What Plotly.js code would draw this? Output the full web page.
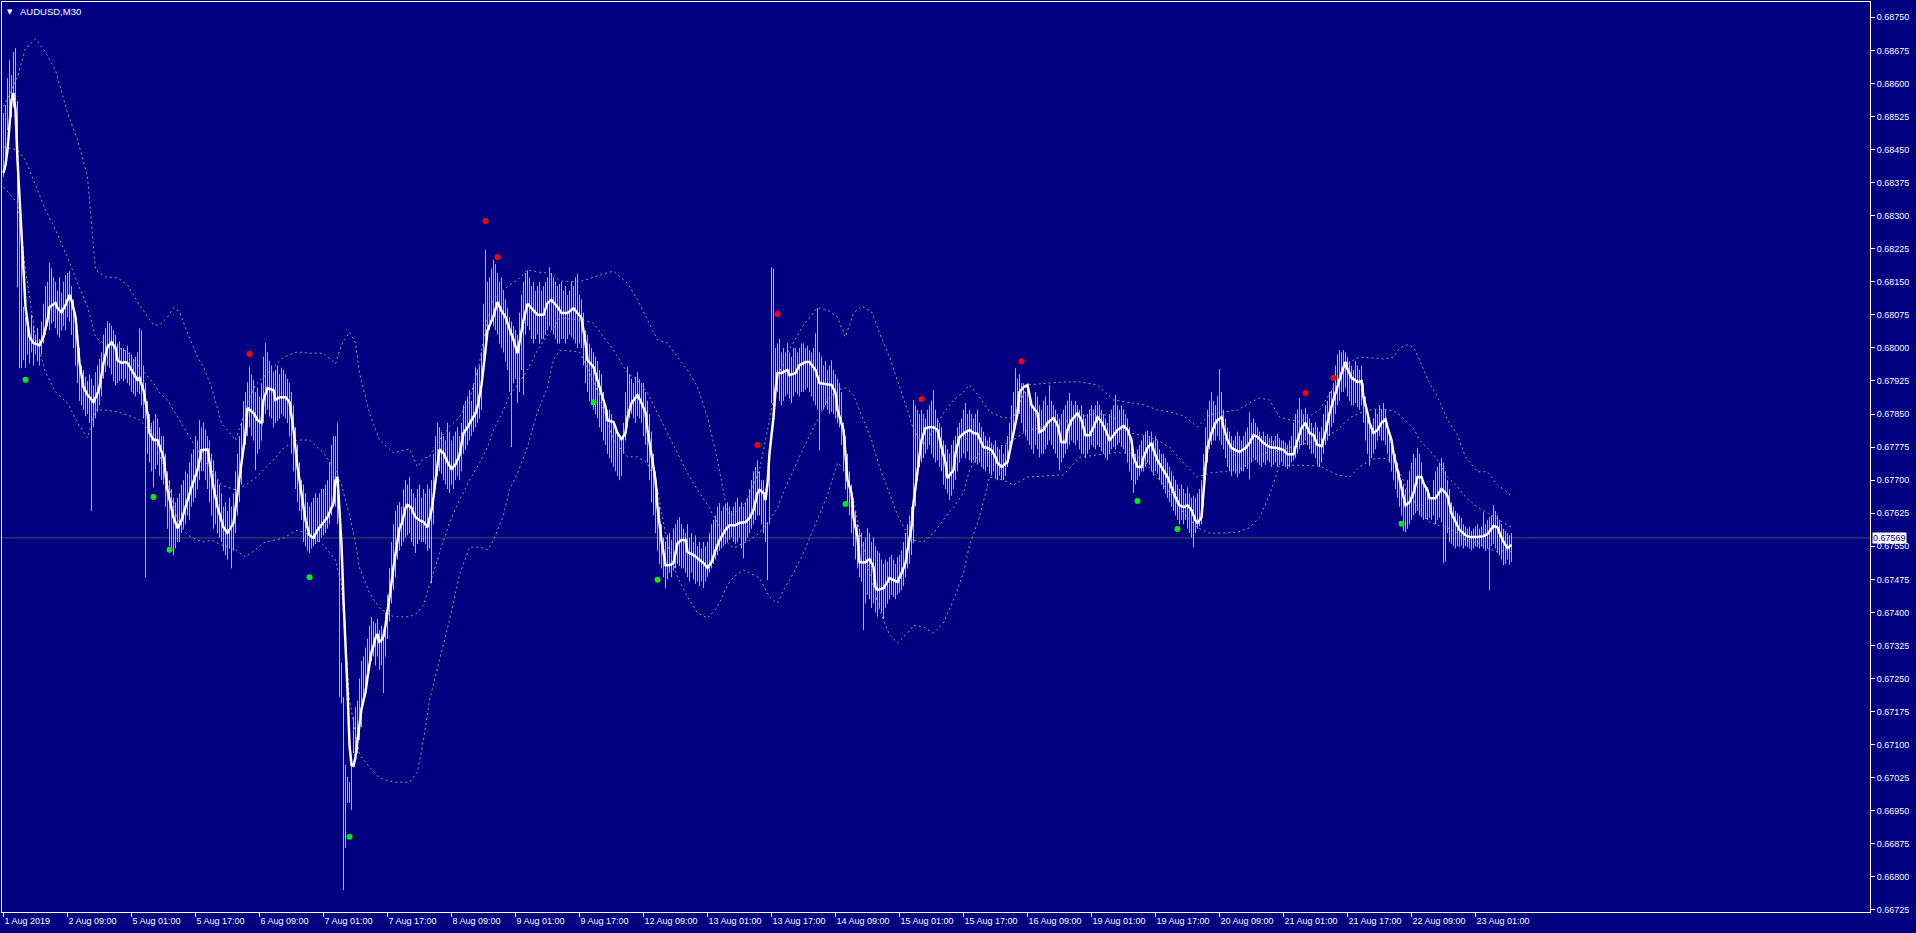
<!DOCTYPE html>
<html><head><meta charset="utf-8">
<script src="https://cdn.plot.ly/plotly-3.0.1.min.js"></script>
<style>html,body{margin:0;padding:0;background:#000080;overflow:hidden}#chart{width:1916px;height:933px}</style>
</head><body><div id="chart"></div>
<script>
// values are stored as points (1e-5) above BASE
const BASE = 0.66, SCALE = 1e5;
const symbolTitle = "AUDUSD,M30";
const lastPrice = 0.67569;
const barsPerLabel = 32;
const timeLabels = ["1 Aug 2019","2 Aug 09:00","5 Aug 01:00","5 Aug 17:00","6 Aug 09:00","7 Aug 01:00","7 Aug 17:00","8 Aug 09:00","9 Aug 01:00","9 Aug 17:00","12 Aug 09:00","13 Aug 01:00","13 Aug 17:00","14 Aug 09:00","15 Aug 01:00","15 Aug 17:00","16 Aug 09:00","19 Aug 01:00","19 Aug 17:00","20 Aug 09:00","21 Aug 01:00","21 Aug 17:00","22 Aug 09:00","23 Aug 01:00"];
const priceTicks = [0.66725,0.66800,0.66875,0.66950,0.67025,0.67100,0.67175,0.67250,0.67325,0.67400,0.67475,0.67550,0.67625,0.67700,0.67775,0.67850,0.67925,0.68000,0.68075,0.68150,0.68225,0.68300,0.68375,0.68450,0.68525,0.68600,0.68675,0.68750];

const highs = [
2533,2551,2612,2653,2619,2671,2680,2560,2297,2229,
2093,2070,2060,2040,2075,2050,2030,2045,2020,2060,
2100,2140,2150,2193,2180,2160,2150,2130,2160,2125,
2150,2165,2170,2175,2140,2110,2080,2040,2000,1960,
1950,1935,1925,1940,1930,1915,1945,1960,1975,1990,
2030,2045,2060,2056,2050,2040,2030,2010,2015,2000,
2000,1995,2005,1990,1985,1975,1980,1990,2045,2040,
1960,1920,1880,1850,1830,1835,1850,1840,1820,1800,
1800,1760,1720,1700,1680,1660,1650,1660,1670,1690,
1700,1720,1715,1740,1760,1770,1800,1790,1836,1820,
1830,1815,1800,1790,1760,1745,1720,1700,1690,1670,
1640,1650,1630,1660,1640,1670,1720,1760,1800,1830,
1880,1900,1922,1956,1940,1927,1900,1910,1890,1920,
1980,2011,1990,1970,1960,1945,1950,1960,1940,1955,
1950,1940,1930,1920,1900,1870,1820,1780,1740,1700,
1690,1670,1650,1640,1650,1660,1670,1660,1670,1680,
1680,1690,1700,1740,1780,1800,1800,1829,1640,1285,
1208,1054,1027,1015,1072,1163,1185,1200,1250,1290,
1300,1320,1340,1370,1389,1380,1375,1385,1360,1370,
1360,1400,1440,1500,1560,1600,1630,1643,1650,1640,
1680,1700,1690,1707,1680,1670,1660,1680,1690,1660,
1680,1670,1690,1680,1700,1760,1800,1830,1820,1810,
1800,1790,1830,1810,1790,1800,1810,1820,1800,1830,
1870,1880,1890,1904,1880,1920,1956,1950,1960,1990,
2100,2222,2150,2160,2180,2200,2190,2170,2150,2160,
2130,2110,2090,2070,2060,2050,2040,2030,2080,2120,
2150,2170,2176,2160,2140,2150,2130,2140,2150,2130,
2140,2150,2160,2183,2170,2160,2150,2140,2145,2150,
2130,2140,2120,2130,2150,2140,2160,2168,2120,2110,
2080,2040,2030,2010,2000,1990,1980,1970,1950,1940,
1900,1870,1860,1859,1850,1830,1820,1810,1800,1790,
1830,1900,1957,1940,1930,1920,1935,1945,1930,1920,
1920,1900,1880,1850,1810,1760,1720,1680,1640,1600,
1570,1560,1575,1580,1565,1590,1600,1610,1616,1600,
1590,1580,1600,1570,1580,1560,1575,1550,1560,1545,
1560,1550,1560,1580,1600,1610,1620,1640,1648,1630,
1640,1645,1650,1640,1630,1640,1650,1660,1640,1650,
1640,1650,1660,1680,1700,1720,1730,1745,1720,1700,
1700,1680,1605,1760,2183,2180,2000,2010,2020,1990,
2000,1990,2011,1990,1980,2000,2000,1990,2000,2010,
2010,2000,2005,1995,1990,2000,2033,2090,1990,1980,
1960,1970,1950,1960,1972,1950,1940,1930,1920,1900,
1830,1800,1760,1720,1690,1660,1630,1600,1590,1580,
1560,1570,1591,1580,1560,1570,1550,1540,1535,1520,
1510,1520,1515,1525,1530,1520,1510,1525,1530,1540,
1560,1580,1600,1620,1640,1882,1870,1860,1850,1860,
1850,1840,1860,1870,1880,1904,1860,1840,1830,1820,
1790,1780,1770,1760,1780,1790,1800,1820,1830,1840,
1860,1875,1850,1860,1850,1840,1850,1860,1830,1820,
1810,1800,1790,1798,1785,1780,1790,1775,1770,1780,
1760,1780,1800,1830,1870,1900,1954,1930,1940,1920,
1920,1900,1910,1890,1880,1870,1900,1890,1870,1860,
1880,1890,1870,1916,1880,1870,1860,1850,1840,1850,
1860,1870,1880,1898,1880,1870,1880,1870,1860,1870,
1850,1840,1850,1860,1870,1860,1870,1880,1870,1860,
1850,1840,1830,1850,1860,1870,1893,1870,1860,1870,
1860,1850,1840,1820,1790,1770,1760,1770,1780,1790,
1800,1810,1813,1800,1810,1790,1800,1790,1770,1760,
1760,1750,1740,1730,1720,1710,1700,1690,1680,1690,
1680,1670,1684,1670,1660,1665,1660,1670,1680,1700,
1760,1820,1860,1880,1900,1880,1870,1890,1952,1900,
1860,1840,1820,1810,1800,1790,1800,1810,1800,1790,
1800,1810,1820,1854,1830,1840,1830,1820,1810,1800,
1810,1800,1805,1795,1800,1790,1800,1805,1795,1790,
1790,1785,1780,1790,1800,1830,1850,1860,1886,1860,
1850,1864,1850,1840,1830,1820,1830,1820,1810,1820,
1850,1870,1880,1900,1904,1920,1960,1985,1995,1990,
1995,1990,1980,1970,1960,1950,1970,1960,1950,1960,
1920,1890,1860,1830,1820,1840,1860,1850,1870,1860,
1875,1860,1830,1810,1790,1770,1760,1740,1720,1700,
1690,1680,1700,1720,1740,1760,1750,1773,1760,1740,
1690,1680,1684,1670,1660,1700,1720,1730,1740,1750,
1740,1720,1700,1680,1650,1640,1630,1625,1620,1615,
1600,1595,1590,1593,1585,1590,1595,1600,1590,1595,
1628,1600,1610,1616,1620,1643,1630,1620,1610,1600,
1590,1585,1580,1575,1580];

const lows = [
2388,2426,2494,2487,2524,2546,2562,2138,1954,1954,
1972,1955,1985,1965,1990,1960,1985,1970,1960,1985,
2010,2030,2050,2040,2055,2060,2045,2030,2025,2040,
2050,2040,2070,2060,2030,2000,1960,1920,1880,1870,
1860,1845,1850,1830,1630,1820,1840,1855,1870,1890,
1930,1945,1960,1955,1940,1925,1915,1920,1925,1930,
1925,1930,1920,1915,1900,1895,1890,1900,1895,1870,
1840,1480,1760,1740,1720,1684,1725,1735,1710,1700,
1690,1640,1590,1550,1540,1530,1545,1560,1560,1580,
1590,1600,1620,1610,1640,1650,1660,1680,1700,1720,
1720,1700,1680,1650,1620,1590,1600,1580,1570,1560,
1540,1530,1520,1545,1500,1540,1580,1620,1650,1690,
1760,1780,1800,1820,1800,1790,1723,1760,1770,1790,
1830,1850,1860,1845,1840,1820,1830,1835,1840,1850,
1845,1840,1830,1800,1760,1720,1680,1650,1630,1610,
1560,1550,1540,1535,1545,1550,1555,1560,1560,1570,
1575,1580,1590,1600,1620,1640,1640,1600,1208,1194,
770,866,968,968,952,1081,1081,1080,1110,1140,
1200,1230,1250,1270,1290,1300,1280,1300,1270,1280,
1217,1300,1340,1380,1420,1450,1480,1520,1540,1550,
1560,1570,1575,1580,1560,1550,1535,1555,1565,1560,
1560,1555,1540,1545,1466,1600,1680,1710,1720,1715,
1700,1690,1680,1671,1690,1680,1700,1710,1700,1720,
1760,1770,1780,1790,1800,1810,1820,1830,1840,1860,
1940,2000,2020,2040,2060,2050,2040,2030,2010,2000,
1990,1970,1950,1900,1775,1920,1930,1875,1900,1950,
1893,2030,2050,2040,2020,2010,2020,2030,2010,2020,
2020,2030,2040,2050,2040,2030,2020,2010,2010,2020,
2020,2010,2020,2030,2025,2020,2010,2000,2010,2000,
1960,1920,1900,1880,1870,1860,1850,1840,1820,1810,
1790,1780,1760,1750,1740,1730,1720,1710,1700,1710,
1760,1790,1820,1840,1850,1840,1830,1845,1840,1830,
1800,1780,1740,1700,1650,1620,1580,1540,1510,1500,
1480,1455,1475,1490,1480,1495,1500,1510,1505,1500,
1500,1490,1480,1470,1490,1475,1465,1470,1460,1470,
1455,1470,1480,1490,1500,1510,1520,1530,1540,1545,
1550,1555,1560,1565,1570,1560,1555,1560,1570,1545,
1523,1560,1570,1580,1590,1600,1610,1620,1620,1600,
1580,1560,1473,1600,1875,1880,1890,1900,1880,1870,
1880,1890,1895,1885,1875,1890,1900,1895,1890,1900,
1900,1905,1910,1900,1890,1880,1870,1860,1768,1860,
1860,1870,1860,1850,1855,1850,1840,1829,1820,1780,
1720,1680,1650,1620,1580,1550,1520,1500,1480,1470,
1360,1420,1440,1430,1410,1420,1400,1390,1410,1400,
1385,1410,1420,1430,1440,1435,1430,1440,1445,1450,
1460,1480,1500,1510,1530,1557,1640,1700,1730,1740,
1750,1760,1770,1780,1760,1750,1740,1745,1730,1720,
1690,1680,1670,1655,1665,1680,1700,1720,1740,1750,
1760,1750,1765,1745,1740,1745,1740,1735,1740,1730,
1725,1720,1730,1715,1710,1720,1705,1700,1710,1700,
1700,1710,1730,1750,1780,1800,1830,1840,1850,1830,
1810,1800,1790,1780,1770,1760,1780,1770,1752,1760,
1760,1770,1780,1790,1780,1770,1760,1750,1723,1740,
1750,1760,1770,1780,1790,1785,1780,1790,1770,1760,
1760,1750,1760,1770,1780,1775,1770,1780,1775,1765,
1760,1750,1745,1760,1770,1775,1770,1780,1785,1775,
1770,1760,1740,1720,1700,1671,1690,1700,1710,1720,
1720,1730,1740,1735,1720,1710,1720,1715,1700,1690,
1680,1670,1660,1650,1640,1630,1620,1610,1600,1610,
1600,1610,1590,1580,1570,1548,1580,1590,1595,1600,
1640,1700,1740,1770,1780,1790,1790,1800,1790,1780,
1770,1750,1730,1720,1710,1720,1715,1707,1715,1720,
1720,1730,1725,1702,1740,1750,1745,1740,1735,1730,
1740,1735,1745,1740,1730,1735,1740,1730,1735,1740,
1735,1730,1725,1730,1740,1745,1750,1760,1770,1780,
1780,1790,1780,1770,1760,1760,1750,1735,1730,1740,
1760,1780,1790,1800,1820,1830,1850,1870,1880,1900,
1900,1910,1890,1880,1870,1870,1875,1866,1860,1870,
1830,1790,1760,1734,1750,1760,1770,1790,1800,1790,
1790,1780,1760,1740,1720,1700,1680,1660,1640,1620,
1585,1582,1590,1600,1610,1620,1625,1630,1620,1616,
1610,1612,1609,1615,1610,1620,1600,1610,1615,1605,
1512,1515,1580,1560,1555,1550,1545,1550,1548,1552,
1545,1550,1548,1545,1541,1545,1550,1548,1545,1550,
1545,1540,1545,1451,1550,1555,1545,1535,1530,1520,
1507,1510,1520,1508,1515];

// white smoothed average: [bar index, value]
const maPoints = [[0,2397],[1,2415],[2,2449],[3,2499],[4,2562],[5,2578],[6,2540],[7,2426],[8,2336],[9,2251],[10,2161],[11,2093],[13,2025],[15,2011],[18,2006],[20,2025],[22,2063],[23,2093],[26,2102],[27,2090],[29,2081],[31,2097],[33,2120],[34,2108],[36,2070],[37,2025],[38,1966],[40,1911],[42,1893],[43,1888],[45,1877],[47,1897],[48,1911],[50,1966],[52,2002],[54,2013],[56,2000],[57,1972],[59,1966],[61,1968],[62,1966],[64,1950],[67,1927],[68,1932],[70,1904],[72,1852],[73,1807],[75,1791],[77,1791],[80,1752],[82,1677],[85,1616],[87,1591],[89,1609],[92,1655],[94,1684],[97,1723],[99,1768],[102,1770],[103,1739],[105,1684],[107,1639],[110,1593],[112,1580],[115,1603],[117,1671],[119,1745],[121,1807],[122,1864],[125,1852],[127,1836],[129,1830],[130,1882],[132,1909],[135,1904],[136,1882],[138,1888],[141,1888],[143,1877],[145,1814],[147,1730],[149,1671],[151,1609],[153,1575],[155,1569],[157,1587],[160,1603],[162,1616],[165,1648],[166,1700],[167,1707],[168,1640],[169,1553],[170,1428],[171,1337],[172,1224],[173,1099],[174,1054],[175,1052],[176,1072],[177,1110],[178,1151],[179,1181],[180,1201],[181,1219],[182,1253],[183,1287],[184,1310],[185,1324],[186,1342],[187,1351],[188,1333],[189,1337],[190,1346],[191,1371],[192,1401],[193,1433],[194,1467],[195,1503],[196,1535],[197,1571],[198,1591],[199,1600],[200,1621],[201,1637],[202,1644],[203,1641],[204,1637],[205,1625],[206,1616],[208,1609],[210,1605],[212,1593],[214,1632],[215,1662],[216,1705],[217,1734],[218,1770],[220,1761],[222,1741],[224,1725],[226,1736],[228,1757],[230,1807],[232,1820],[234,1836],[236,1852],[237,1866],[239,1916],[241,1995],[242,2040],[245,2072],[247,2104],[249,2084],[251,2070],[253,2043],[255,2018],[257,1988],[258,2013],[260,2063],[262,2100],[265,2086],[267,2075],[270,2075],[272,2102],[274,2109],[277,2093],[279,2079],[282,2079],[285,2090],[287,2079],[289,2068],[291,2011],[292,1972],[295,1957],[297,1927],[299,1898],[301,1866],[302,1836],[305,1832],[307,1807],[309,1793],[311,1807],[312,1843],[314,1875],[317,1893],[319,1875],[321,1854],[322,1814],[324,1761],[326,1700],[327,1639],[329,1564],[331,1507],[333,1507],[335,1512],[337,1557],[339,1564],[341,1564],[342,1537],[345,1530],[347,1523],[350,1512],[352,1501],[354,1514],[356,1541],[358,1564],[361,1587],[363,1598],[366,1598],[368,1603],[371,1605],[373,1614],[375,1632],[377,1671],[378,1678],[380,1671],[381,1655],[382,1693],[383,1761],[385,1843],[386,1904],[387,1943],[389,1943],[392,1950],[393,1938],[396,1943],[398,1961],[401,1968],[403,1968],[406,1950],[408,1920],[411,1918],[414,1916],[416,1898],[417,1859],[420,1814],[421,1761],[422,1700],[424,1671],[425,1616],[427,1571],[428,1514],[431,1514],[433,1521],[435,1503],[436,1457],[437,1451],[440,1455],[442,1469],[443,1478],[445,1473],[447,1469],[449,1489],[451,1512],[452,1541],[454,1593],[455,1648],[457,1716],[458,1761],[459,1791],[461,1818],[463,1820],[465,1820],[467,1814],[469,1775],[471,1739],[472,1705],[475,1723],[476,1761],[478,1798],[481,1809],[483,1814],[485,1807],[487,1805],[490,1775],[492,1773],[494,1768],[496,1752],[497,1739],[499,1730],[502,1741],[503,1761],[505,1807],[507,1852],[508,1900],[510,1911],[512,1916],[514,1870],[517,1852],[518,1809],[520,1814],[522,1830],[525,1841],[527,1825],[529,1786],[531,1786],[532,1814],[534,1836],[537,1852],[539,1836],[541,1802],[543,1802],[545,1820],[547,1843],[549,1832],[551,1814],[553,1791],[555,1802],[557,1814],[560,1823],[562,1814],[564,1791],[565,1752],[567,1730],[569,1730],[570,1752],[572,1773],[574,1784],[575,1768],[577,1745],[580,1723],[582,1707],[584,1684],[586,1661],[588,1643],[590,1639],[592,1643],[594,1632],[596,1609],[597,1603],[599,1616],[600,1677],[601,1730],[602,1775],[604,1807],[606,1830],[607,1836],[609,1843],[610,1820],[612,1791],[614,1773],[616,1768],[618,1764],[621,1773],[623,1784],[625,1802],[627,1798],[630,1784],[633,1775],[637,1773],[640,1768],[642,1759],[645,1759],[647,1791],[649,1818],[651,1830],[653,1807],[655,1802],[657,1780],[659,1777],[661,1809],[663,1852],[665,1882],[667,1916],[669,1943],[671,1968],[672,1952],[674,1932],[677,1923],[679,1925],[680,1888],[682,1852],[683,1830],[685,1807],[687,1814],[689,1830],[691,1838],[692,1820],[694,1791],[695,1761],[697,1723],[699,1684],[700,1659],[701,1643],[703,1650],[705,1671],[707,1707],[709,1707],[710,1693],[712,1677],[713,1659],[716,1659],[717,1666],[719,1680],[721,1671],[722,1664],[724,1625],[726,1605],[728,1587],[731,1575],[733,1571],[737,1571],[740,1573],[742,1578],[745,1596],[747,1593],[748,1580],[750,1560],[752,1546],[754,1553]];

// dotted envelope: [bar index, upper, middle, lower]
const bandPoints = [[0,2547,2456,2365],[7,2615,2449,2329],[11,2680,2426,2177],[16,2701,2370,2025],[21,2671,2313,1945],[26,2630,2268,1900],[32,2533,2206,1875],[37,2472,2147,1830],[42,2388,2093,1796],[46,2177,2025,1859],[51,2161,2007,1859],[57,2159,2002,1855],[62,2143,1991,1848],[68,2097,1957,1837],[75,2052,1920,1802],[78,2052,1898,1757],[82,2070,1882,1700],[85,2091,1859,1644],[88,2082,1837,1598],[92,2034,1807,1576],[97,1979,1768,1564],[100,1957,1746,1560],[104,1911,1723,1564],[109,1830,1689,1553],[116,1791,1678,1542],[121,1859,1689,1526],[126,1916,1705,1542],[130,1934,1723,1558],[135,1957,1746,1564],[140,1979,1773,1569],[147,1991,1791,1587],[153,1988,1791,1576],[160,1988,1762,1553],[166,1964,1723,1519],[169,2007,1689,1462],[173,2036,1621,1201],[176,2011,1558,1127],[178,1943,1501,1077],[183,1852,1444,1049],[188,1791,1410,1024],[195,1762,1390,1015],[203,1771,1390,1015],[207,1730,1399,1038],[210,1750,1417,1111],[213,1753,1462,1201],[218,1791,1535,1292],[223,1821,1603,1383],[228,1843,1655,1485],[233,1882,1700,1548],[238,1966,1739,1548],[242,2070,1775,1542],[245,2109,1814,1564],[250,2131,1859,1621],[253,2143,1893,1678],[257,2154,1916,1716],[262,2177,1950,1775],[267,2172,1995,1855],[272,2170,2029,1911],[275,2165,2045,1973],[278,2152,2068,1995],[288,2150,2063,1991],[295,2161,2057,1927],[300,2168,2025,1859],[305,2174,1995,1791],[312,2147,1943,1753],[317,2109,1927,1753],[322,2063,1898,1739],[327,2018,1852,1678],[332,2011,1807,1553],[337,1979,1762,1480],[342,1950,1716,1435],[347,1911,1678,1399],[352,1843,1644,1387],[357,1746,1603,1412],[362,1626,1558,1462],[365,1621,1546,1480],[370,1644,1558,1496],[373,1666,1564,1489],[378,1723,1580,1478],[383,1837,1610,1435],[387,1927,1637,1421],[390,1973,1673,1451],[395,2011,1723,1489],[400,2052,1773,1535],[407,2091,1837,1610],[412,2086,1882,1666],[417,2070,1905,1739],[421,2025,1909,1723],[425,2079,1893,1655],[429,2095,1848,1564],[434,2082,1791,1474],[438,2034,1730,1406],[443,1979,1671,1349],[447,1927,1621,1331],[452,1859,1576,1353],[455,1814,1564,1371],[460,1780,1560,1367],[465,1814,1580,1353],[470,1852,1610,1376],[475,1882,1639,1428],[480,1900,1671,1489],[483,1916,1723,1553],[488,1889,1762,1616],[493,1855,1762,1707],[500,1841,1780,1700],[505,1843,1791,1689],[512,1916,1814,1707],[522,1920,1821,1709],[530,1923,1832,1712],[538,1923,1843,1752],[547,1916,1852,1757],[555,1882,1843,1762],[563,1877,1807,1762],[570,1871,1802,1746],[577,1859,1791,1707],[583,1855,1775,1671],[590,1846,1739,1626],[597,1821,1707,1592],[603,1848,1716,1580],[610,1855,1719,1580],[617,1859,1723,1582],[623,1875,1739,1592],[628,1886,1757,1616],[633,1882,1764,1666],[638,1843,1768,1734],[648,1832,1780,1734],[658,1859,1791,1732],[667,1923,1814,1712],[673,1968,1841,1707],[678,1979,1852,1730],[685,1977,1861,1748],[690,1975,1861,1750],[695,1979,1857,1741],[698,2000,1848,1719],[702,2007,1832,1678],[705,2002,1818,1655],[708,1973,1791,1632],[713,1920,1768,1605],[717,1889,1746,1598],[722,1837,1707,1592],[727,1802,1685,1580],[731,1753,1662,1564],[737,1719,1639,1558],[742,1719,1626,1546],[747,1689,1612,1537],[752,1673,1598,1542],[754,1662,1594,1537]];

const redDots = [[123,1986],[241,2288],[247,2206],[377,1780],[387,2077],[459,1884],[509,1970],[651,1898],[665,1932]];
const greenDots = [[11,1928],[75,1662],[83,1542],[153,1480],[173,891],[295,1877],[327,1474],[421,1646],[567,1653],[587,1589],[699,1601]];

const P = v => BASE + v / SCALE;

// bars drawn as 1px vertical high-low strokes
const barX = [], barY = [];
highs.forEach((h, i) => { barX.push(i, i, null); barY.push(P(lows[i]), P(h), null); });

const traces = [];
const bandStyle = {color: '#9a9a9a', width: 1, dash: '2px,3px'};
traces.push({
  type: 'scatter', mode: 'lines', x: barX, y: barY, connectgaps: false,
  line: {color: '#7cfc00', width: 1}, hoverinfo: 'skip'
});
[1, 2, 3].forEach(k => traces.push({
  type: 'scatter', mode: 'lines', x: bandPoints.map(p => p[0]), y: bandPoints.map(p => P(p[k])),
  line: Object.assign({}, bandStyle), hoverinfo: 'skip'
}));
traces.push({
  type: 'scatter', mode: 'lines', x: maPoints.map(p => p[0]), y: maPoints.map(p => P(p[1])),
  line: {color: '#ffffff', width: 2.5}, hoverinfo: 'skip'
});
traces.push({
  type: 'scatter', mode: 'markers', x: redDots.map(p => p[0]), y: redDots.map(p => P(p[1])),
  marker: {color: '#ff0000', size: 6, line: {width: 0}}, hoverinfo: 'skip'
});
traces.push({
  type: 'scatter', mode: 'markers', x: greenDots.map(p => p[0]), y: greenDots.map(p => P(p[1])),
  marker: {color: '#00ee00', size: 6, line: {width: 0}}, hoverinfo: 'skip'
});

const layout = {
  width: 1916, height: 933,
  margin: {l: 2, r: 46, t: 2, b: 21, pad: 0},
  paper_bgcolor: '#000080', plot_bgcolor: '#000080',
  font: {family: 'Liberation Sans, Arial, sans-serif', size: 9, color: '#ffffff'},
  showlegend: false, hovermode: false,
  xaxis: {
    range: [-0.75, 933.25], tickmode: 'array',
    tickvals: timeLabels.map((_, k) => k * barsPerLabel), ticktext: timeLabels,
    ticks: 'outside', ticklen: 4, tickwidth: 1, tickcolor: '#ffffff',
    ticklabelposition: 'outside right',
    showline: true, linecolor: '#ffffff', linewidth: 1, mirror: true,
    showgrid: false, zeroline: false, fixedrange: true,
    tickfont: {family: 'Liberation Sans, Arial, sans-serif', size: 9, color: '#ffffff'}
  },
  yaxis: {
    range: [0.667204, 0.687847], side: 'right', tickmode: 'array',
    tickvals: priceTicks, ticktext: priceTicks.map(v => v.toFixed(5)),
    ticks: 'outside', ticklen: 4, tickwidth: 1, tickcolor: '#ffffff',
    showline: true, linecolor: '#ffffff', linewidth: 1, mirror: true,
    showgrid: false, zeroline: false, fixedrange: true,
    tickfont: {family: 'Liberation Sans, Arial, sans-serif', size: 9, color: '#ffffff'}
  },
  shapes: [{
    type: 'line', xref: 'paper', x0: 0, x1: 1, yref: 'y', y0: lastPrice, y1: lastPrice,
    line: {color: '#4d4d5c', width: 1}, layer: 'below'
  }],
  annotations: [
    {xref: 'paper', yref: 'paper', x: 0, y: 1, xanchor: 'left', yanchor: 'top', xshift: 3, yshift: -4,
     text: '▼', showarrow: false, font: {family: 'DejaVu Sans', size: 7, color: '#ffffff'}},
    {xref: 'paper', yref: 'paper', x: 0, y: 1, xanchor: 'left', yanchor: 'top', xshift: 16, yshift: -2,
     text: symbolTitle, showarrow: false, font: {family: 'Liberation Sans, Arial, sans-serif', size: 9.5, color: '#ffffff'}},
    {xref: 'paper', yref: 'y', x: 1, y: lastPrice, xanchor: 'left', yanchor: 'middle', xshift: 2,
     text: lastPrice.toFixed(5), showarrow: false, bgcolor: '#ffffff', borderpad: 0,
     font: {family: 'Liberation Sans, Arial, sans-serif', size: 9, color: '#000080'}}
  ]
};

Plotly.newPlot('chart', traces, layout, {staticPlot: true, displayModeBar: false});
</script>
</body></html>
